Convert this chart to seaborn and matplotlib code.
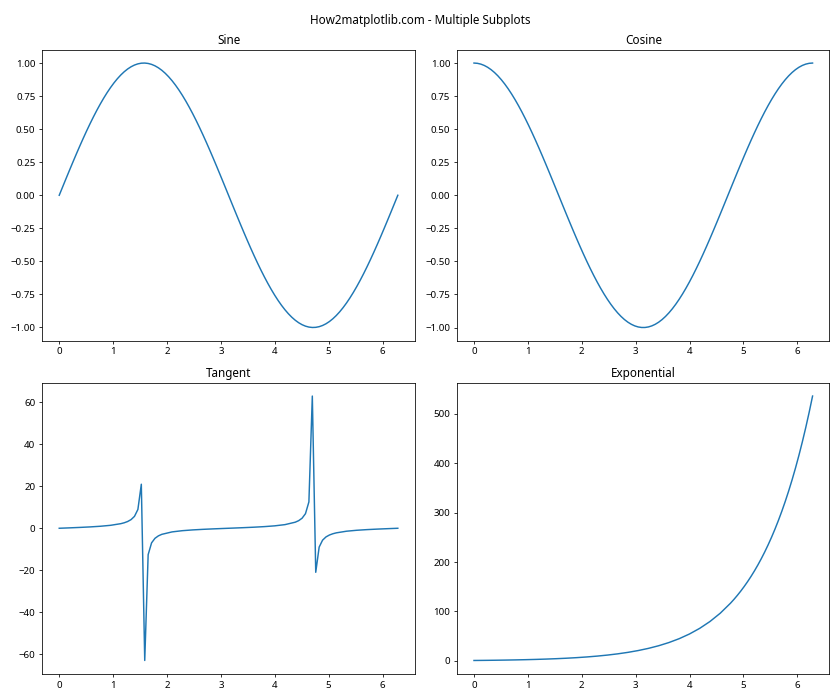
import matplotlib
matplotlib.use("Agg")
import matplotlib.pyplot as plt
import seaborn as sns

plt.rcParams['font.family'] = ['Noto Sans', 'DejaVu Sans']

# 100 sample positions from 0 to 2*pi
x_full = [0.0, 0.0635, 0.1269, 0.1904, 0.2539, 0.3173, 0.3808, 0.4443, 0.5077, 0.5712,
          0.6347, 0.6981, 0.7616, 0.8251, 0.8885, 0.9520, 1.0155, 1.0789, 1.1424, 1.2059,
          1.2693, 1.3328, 1.3963, 1.4597, 1.5232, 1.5867, 1.6501, 1.7136, 1.7771, 1.8405,
          1.9040, 1.9675, 2.0309, 2.0944, 2.1579, 2.2213, 2.2848, 2.3483, 2.4117, 2.4752,
          2.5387, 2.6021, 2.6656, 2.7291, 2.7925, 2.8560, 2.9195, 2.9829, 3.0464, 3.1099,
          3.1733, 3.2368, 3.3003, 3.3637, 3.4272, 3.4907, 3.5541, 3.6176, 3.6811, 3.7445,
          3.8080, 3.8715, 3.9349, 3.9984, 4.0619, 4.1253, 4.1888, 4.2523, 4.3157, 4.3792,
          4.4427, 4.5061, 4.5696, 4.6331, 4.6965, 4.7600, 4.8235, 4.8869, 4.9504, 5.0139,
          5.0773, 5.1408, 5.2043, 5.2677, 5.3312, 5.3947, 5.4581, 5.5216, 5.5851, 5.6485,
          5.7120, 5.7755, 5.8389, 5.9024, 5.9659, 6.0293, 6.0928, 6.1563, 6.2197, 6.2832]

sine_vals = [0.0, 0.06342, 0.12659, 0.18925, 0.25115, 0.31203, 0.37166, 0.42979, 0.48620, 0.54064,
             0.59291, 0.64279, 0.69008, 0.73459, 0.77615, 0.81458, 0.84973, 0.88146, 0.90963, 0.93415,
             0.95490, 0.97181, 0.98481, 0.99384, 0.99887, 0.99987, 0.99685, 0.98982, 0.97880, 0.96386,
             0.94500, 0.92235, 0.89599, 0.86603, 0.83257, 0.79576, 0.75575, 0.71269, 0.66677, 0.61816,
             0.56706, 0.51368, 0.45823, 0.40093, 0.34202, 0.28173, 0.22031, 0.15800, 0.09506, 0.03173,
             -0.03173, -0.09506, -0.15800, -0.22031, -0.28173, -0.34202, -0.40093, -0.45823, -0.51368, -0.56706,
             -0.61816, -0.66677, -0.71269, -0.75575, -0.79576, -0.83257, -0.86603, -0.89599, -0.92235, -0.94500,
             -0.96386, -0.97880, -0.98982, -0.99685, -0.99987, -0.99887, -0.99384, -0.98481, -0.97181, -0.95490,
             -0.93415, -0.90963, -0.88146, -0.84973, -0.81458, -0.77615, -0.73459, -0.69008, -0.64279, -0.59291,
             -0.54064, -0.48620, -0.42979, -0.37166, -0.31203, -0.25115, -0.18925, -0.12659, -0.06342, 0.0]

cosine_vals = [1.0, 0.99799, 0.99195, 0.98193, 0.96795, 0.95007, 0.92836, 0.90293, 0.87385, 0.84125,
               0.80527, 0.76604, 0.72373, 0.67851, 0.63055, 0.58005, 0.52722, 0.47226, 0.41541, 0.35688,
               0.29693, 0.23575, 0.17365, 0.11084, 0.04758, -0.01587, -0.07925, -0.14231, -0.20482, -0.26641,
               -0.32706, -0.38636, -0.44407, -0.5, -0.55392, -0.60561, -0.65486, -0.70148, -0.74526, -0.78605,
               -0.82368, -0.85799, -0.88879, -0.91611, -0.93969, -0.95949, -0.97543, -0.98744, -0.99547, -0.99950,
               -0.99950, -0.99547, -0.98744, -0.97543, -0.95949, -0.93969, -0.91611, -0.88879, -0.85799, -0.82368,
               -0.78605, -0.74526, -0.70148, -0.65486, -0.60561, -0.55392, -0.5, -0.44407, -0.38636, -0.32706,
               -0.26641, -0.20482, -0.14231, -0.07925, -0.01587, 0.04758, 0.11084, 0.17365, 0.23575, 0.29693,
               0.35688, 0.41541, 0.47226, 0.52722, 0.58005, 0.63055, 0.67851, 0.72373, 0.76604, 0.80527,
               0.84125, 0.87385, 0.90293, 0.92836, 0.95007, 0.96795, 0.98193, 0.99195, 0.99799, 1.0]

# exponential: every third sample on the flat part, every sample on the steep end
x_exp = [0.0, 0.1904, 0.3808, 0.5712, 0.7616, 0.9520, 1.1424, 1.3328, 1.5232, 1.7136,
         1.9040, 2.0944, 2.2848, 2.4752, 2.6656, 2.8560, 3.0464, 3.2368, 3.4272, 3.6176,
         3.8080, 3.9984, 4.1888, 4.3792, 4.5696, 4.7600, 4.8235, 4.8869, 4.9504, 5.0139,
         5.0773, 5.1408, 5.2043, 5.2677, 5.3312, 5.3947, 5.4581, 5.5216, 5.5851, 5.6485,
         5.7120, 5.7755, 5.8389, 5.9024, 5.9659, 6.0293, 6.0928, 6.1563, 6.2197, 6.2832]

exp_vals = [1.0, 1.2097, 1.4634, 1.7704, 2.1417, 2.5909, 3.1342, 3.7916, 4.5868, 5.5488,
            6.7125, 8.1205, 9.8236, 11.884, 14.376, 17.391, 21.039, 25.451, 30.789, 37.247,
            45.058, 54.509, 65.945, 79.775, 96.506, 116.75, 124.40, 132.55, 141.23, 150.49,
            160.35, 170.85, 182.05, 193.97, 206.68, 220.23, 234.66, 250.03, 266.42, 283.87,
            302.47, 322.29, 343.41, 365.91, 389.89, 415.43, 442.66, 471.66, 502.57, 535.49]

# tangent: denser samples around the two asymptotes
x_tan = [0.0, 0.1904, 0.3808, 0.5712, 0.7616, 0.9520, 1.1424, 1.2059, 1.2693, 1.3328,
         1.3963, 1.4597, 1.5232, 1.5867, 1.6501, 1.7136, 1.7771, 1.8405, 1.9040, 2.0944,
         2.2848, 2.4752, 2.6656, 2.8560, 3.0464, 3.2368, 3.4272, 3.6176, 3.8080, 3.9984,
         4.1888, 4.3792, 4.4427, 4.5061, 4.5696, 4.6331, 4.6965, 4.7600, 4.8235, 4.8869,
         4.9504, 5.0139, 5.0773, 5.1408, 5.3312, 5.5216, 5.7120, 5.9024, 6.0928, 6.2832]

tan_vals = [0.0, 0.1927, 0.4004, 0.6426, 0.9536, 1.4044, 2.1897, 2.6175, 3.2160, 4.1220,
            5.6713, 8.9663, 20.993, -63.02, -12.579, -6.9551, -4.7792, -3.6172, -2.8891, -1.7321,
            -1.1540, -0.7864, -0.5155, -0.2936, -0.0955, 0.0955, 0.2936, 0.5155, 0.7864, 1.1540,
            1.7321, 2.8891, 3.6172, 4.7792, 6.9551, 12.579, 63.02, -20.993, -8.9663, -5.6713,
            -4.1220, -3.2160, -2.6175, -2.1897, -1.4044, -0.9536, -0.6426, -0.4004, -0.1927, 0.0]

panels = [
    ("Sine", x_full, sine_vals),
    ("Cosine", x_full, cosine_vals),
    ("Tangent", x_tan, tan_vals),
    ("Exponential", x_exp, exp_vals),
]

fig, axes = plt.subplots(2, 2, figsize=(12, 10), dpi=70)

for ax, (title, xs, ys) in zip(axes.flat, panels):
    sns.lineplot(x=xs, y=ys, ax=ax, color="#1f77b4", sort=False)
    ax.set_title(title)

fig.suptitle("How2matplotlib.com - Multiple Subplots")
plt.tight_layout()
fig.savefig("out.png", dpi=70)
